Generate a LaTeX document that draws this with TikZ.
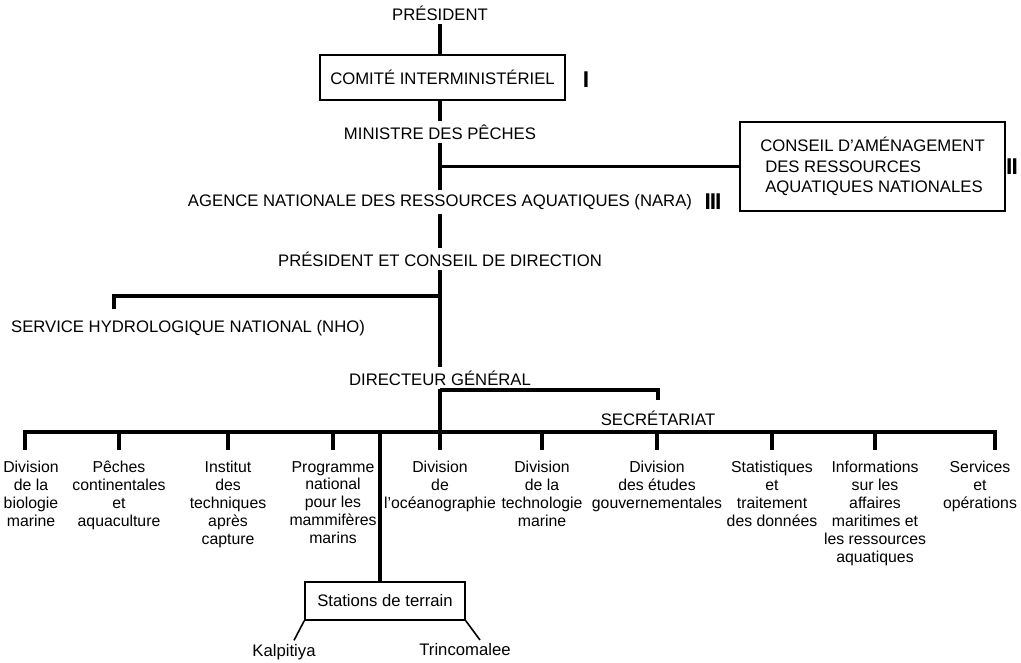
\documentclass[tikz,border=0pt]{standalone}
\usepackage{fontspec}
\setmainfont{Liberation Sans}
\usepackage{tikz}
\tikzstyle{caps} =
[rectangle, inner sep=2pt, text centered, font=\fontsize{9.5}{11.6}\selectfont]
\tikzstyle{frame} =
[rectangle, draw=black, line width=0.9pt, inner sep=2pt, text centered,
font=\fontsize{9.5}{11.6}\selectfont]
\tikzstyle{roman} =
[inner sep=0pt, font=\fontsize{13}{13}\selectfont\bfseries]
\tikzstyle{unit} =
[rectangle, anchor=north, align=center, inner sep=1pt,
font=\fontsize{9}{10.2}\selectfont]
\tikzstyle{line} = [draw, line width=1.9pt]
\tikzstyle{drop} = [draw, line width=1.9pt, shorten >=5pt]
\tikzstyle{twig} = [draw, line width=0.9pt]

\begin{document}
\begin{tikzpicture}[node distance = 1.4cm]
  \useasboundingbox (0,0) rectangle (20.42,-13.24);
  \coordinate (spine) at (8.8,0);
  % spine nodes
  \node [caps] (pres) at (8.8,-0.26) {PRÉSIDENT};
  \node [frame, below of=pres, node distance=1.29cm, xshift=0.05cm,
   minimum width=4.9cm, minimum height=0.9cm] (comite)
   {COMITÉ INTERMINISTÉRIEL};
  \node [caps, below of=pres, node distance=2.38cm] (ministre)
   {MINISTRE DES PÊCHES};
  \node [caps, below of=ministre, node distance=1.4cm] (agence)
   {AGENCE NATIONALE DES RESSOURCES AQUATIQUES (NARA)};
  \node [caps, below of=agence, node distance=1.14cm] (pcd)
   {PRÉSIDENT ET CONSEIL DE DIRECTION};
  \node [caps, below of=pcd, node distance=2.38cm] (dg) {DIRECTEUR GÉNÉRAL};
  % side nodes
  \node [roman] (r1) at (11.72,-1.6) {I};
  \node [frame, align=left, minimum width=5.3cm, minimum height=1.78cm]
   (conseil) at (17.45,-3.33)
   {CONSEIL D'AMÉNAGEMENT\\\hspace*{0.1cm}DES RESSOURCES\\
   \hspace*{0.1cm}AQUATIQUES NATIONALES};
  \node [roman] (r2) at (20.24,-3.34) {I\kern-0.6pt I};
  \node [roman] (r3) at (14.26,-4.04) {I\kern-0.6pt I\kern-0.6pt I};
  \node [caps] (nho) at (3.76,-6.56) {SERVICE HYDROLOGIQUE NATIONAL (NHO)};
  \node [caps] (secr) at (13.16,-8.36) {SECRÉTARIAT};
  % bar
  \coordinate (barL) at (0.5,-8.64);
  \coordinate (barR) at (19.9,-8.64);
  \coordinate (nhojoin) at (8.8,-5.92);
  \coordinate (secjoin) at (8.8,-7.8);
  % divisions
  \node [unit] (biol) at (0.62,-9.18) {Division\\de la\\biologie\\marine};
  \node [unit] (cont) at (2.38,-9.18) {Pêches\\continentales\\et\\aquaculture};
  \node [unit] (tech) at (4.56,-9.18) {Institut\\des\\techniques\\après\\capture};
  \node [unit] (mamm) at (6.66,-9.18)
   {Programme\\national\\pour les\\mammifères\\marins};
  \node [unit] (ocean) at (8.8,-9.18) {Division\\de\\l'océanographie};
  \node [unit] (techmar) at (10.84,-9.18) {Division\\de la\\technologie\\marine};
  \node [unit] (etudes) at (13.14,-9.18) {Division\\des études\\gouvernementales};
  \node [unit] (stat) at (15.44,-9.18)
   {Statistiques\\et\\traitement\\des données};
  \node [unit] (info) at (17.5,-9.18)
   {Informations\\sur les\\affaires\\maritimes et\\les ressources\\aquatiques};
  \node [unit] (serv) at (19.6,-9.18) {Services\\et\\opérations};
  % field stations
  \node [frame, minimum width=3.2cm, minimum height=0.76cm] (stations)
   at (7.7,-12.02) {Stations de terrain};
  \node [caps] (kalp) at (5.68,-13.04) {Kalpitiya};
  \node [caps] (trinc) at (9.3,-13.0) {Trincomalee};
  % spine edges
  \path [line] (pres.south -| spine) -- (comite.north -| spine);
  \path [line] (comite.south -| spine) -- (ministre.north -| spine);
  \path [line] (ministre.south -| spine) -- (agence.north -| spine);
  \path [line] (spine |- conseil.west) -- (conseil.west);
  \path [line] (agence.south -| spine) -- (pcd.north -| spine);
  \path [line] (pcd.south -| spine) -- (dg.north -| spine);
  \path [line, shorten >=4pt] (nhojoin) -| ([xshift=-1.48cm]nho.north);
  \path [line] (dg.south -| spine) -- (spine |- barL);
  \path [line, shorten >=4pt] (secjoin) -| (secr.north);
  % bar edges
  \path [line, line join=miter, shorten <=5pt, shorten >=5pt]
   (barL |- biol.north) -- (barL) -- (barR) -- (barR |- serv.north);
  \path [drop] (cont.north |- barL) -- (cont.north);
  \path [drop] (tech.north |- barL) -- (tech.north);
  \path [drop] (mamm.north |- barL) -- (mamm.north);
  \path [drop] (ocean.north |- barL) -- (ocean.north);
  \path [drop] (techmar.north |- barL) -- (techmar.north);
  \path [drop] (etudes.north |- barL) -- (etudes.north);
  \path [drop] (stat.north |- barL) -- (stat.north);
  \path [drop] (info.north |- barL) -- (info.north);
  \path [line] ([xshift=-0.1cm]stations.north |- barL)
   -- ([xshift=-0.1cm]stations.north);
  \path [twig] (stations.south west) -- ([xshift=0.2cm]kalp.north);
  \path [twig] (stations.south east) -- ([xshift=0.3cm]trinc.north);
\end{tikzpicture}
\end{document}
